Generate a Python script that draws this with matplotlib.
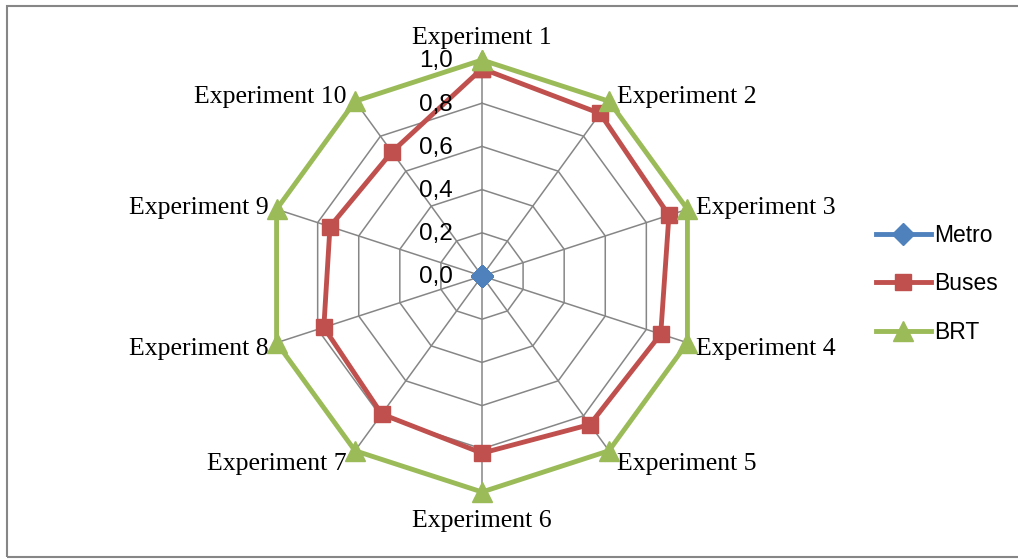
import numpy as np
import matplotlib.pyplot as plt
from matplotlib.patches import Rectangle

categories = ['Experiment 1', 'Experiment 2', 'Experiment 3', 'Experiment 4', 'Experiment 5',
              'Experiment 6', 'Experiment 7', 'Experiment 8', 'Experiment 9', 'Experiment 10']
metro = [0, 0, 0, 0, 0, 0, 0, 0, 0, 0]
buses = [0.96, 0.93, 0.91, 0.87, 0.85, 0.82, 0.79, 0.77, 0.74, 0.71]
brt = [1.0, 1.0, 1.0, 1.0, 1.0, 1.0, 1.0, 1.0, 1.0, 1.0]
ticks = [0.0, 0.2, 0.4, 0.6, 0.8, 1.0]
tick_labels = ['0,0', '0,2', '0,4', '0,6', '0,8', '1,0']

grid_col = '#868686'
W, H = 1018, 559
fig = plt.figure(figsize=(W/100, H/100), dpi=100)

# polar axes placed so that centre sits at (482, 276) px with radius 216 px
cx, cy, R = 482, 276, 216
ax = fig.add_axes([(cx-R)/W, (H-cy-R)/H, 2*R/W, 2*R/H], projection='polar')
ax.set_theta_zero_location('N')
ax.set_theta_direction(-1)
ax.set_ylim(0, 1.0)
ax.grid(False)
ax.set_xticks([])
ax.set_yticks([])
ax.spines['polar'].set_visible(False)
ax.patch.set_alpha(0)

n = len(categories)
theta = np.arange(n) * 2*np.pi/n
theta_c = np.append(theta, theta[0])

# polygon grid
for t in ticks[1:]:
    ax.plot(theta_c, [t]*(n+1), color=grid_col, lw=1.1, zorder=1)
for th in theta:
    ax.plot([th, th], [0, 1.0], color=grid_col, lw=1.1, zorder=1)

def closed(v):
    return np.append(v, v[0])

ax.plot(theta_c, closed(metro), color='#4F81BD', lw=3.5, marker='D', ms=11,
        label='Metro', zorder=3, clip_on=False)
ax.plot(theta_c, closed(buses), color='#C0504D', lw=3.5, marker='s', ms=12,
        label='Buses', zorder=4, clip_on=False)
ax.plot(theta_c, closed(brt), color='#9BBB59', lw=3.5, marker='^', ms=14,
        label='BRT', zorder=5, clip_on=False)

# value labels along the first spoke
for t, lab in zip(ticks, tick_labels):
    ax.annotate(lab, xy=(0, t), xytext=(-21, -1), textcoords='offset points',
                ha='right', va='center', fontsize=17.5, family='Liberation Sans',
                zorder=6)

# category labels
for th, lab in zip(theta, categories):
    s, c = np.sin(th), np.cos(th)
    if abs(s) < 0.1:
        ha = 'center'
        va = 'bottom' if c > 0 else 'top'
        off = (0, 8 if c > 0 else -13)
    else:
        ha = 'left' if s > 0 else 'right'
        va = 'center'
        off = (6*np.sign(s), 4*c if c > 0 else 9*c - 2)
    ax.annotate(lab, xy=(th, 1.0), xytext=off, textcoords='offset points',
                ha=ha, va=va, fontsize=18.5, family='Liberation Serif')

fig.legend(loc='center left', bbox_to_anchor=(855/W, 1-284/H), frameon=False,
           prop={'family': 'Liberation Sans', 'size': 16.5}, handlelength=2.4,
           labelspacing=1.1, handletextpad=0.15)

fig.patches.append(Rectangle((7/W, 2/H), 1.05, 1-8/H, transform=fig.transFigure,
                             fill=False, edgecolor=grid_col, lw=1.5))

fig.savefig('out.png', dpi=100)
